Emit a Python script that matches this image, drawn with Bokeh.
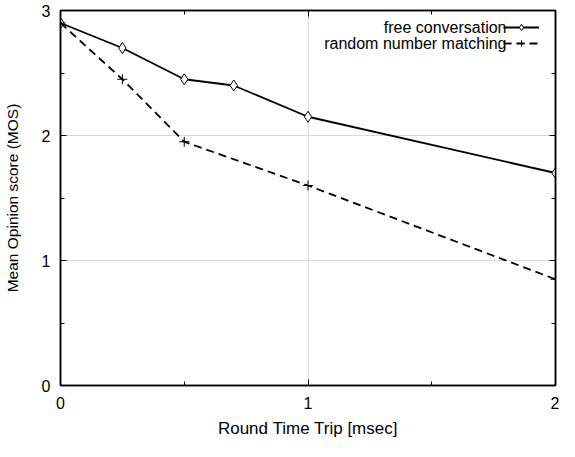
from bokeh.plotting import figure
from bokeh.models import (Range1d, LinearAxis, FixedTicker, Legend, LegendItem, Label)
from bokeh.embed import file_html
from bokeh.resources import INLINE

# Data
rtt_free = [0, 0.25, 0.5, 0.7, 1, 2]
mos_free = [2.9, 2.7, 2.45, 2.4, 2.15, 1.7]
rtt_rand = [0, 0.25, 0.5, 1, 2]
mos_rand = [2.9, 2.45, 1.95, 1.6, 0.85]
x_ticks = [0, 1, 2]
y_ticks = [0, 1, 2, 3]
series_names = ["free conversation", "random number matching"]

FONT = "Liberation Sans"

W, H = 559, 441
BL, BR, BT, BB = 60, 4, 10, 56
p = figure(width=W, height=H, output_backend="svg", toolbar_location=None,
           x_range=Range1d(0, 2), y_range=Range1d(0, 3),
           min_border_left=BL, min_border_right=BR, min_border_top=BT, min_border_bottom=BB)

p.background_fill_color = "white"
p.border_fill_color = "white"
p.outline_line_color = "black"
p.outline_line_width = 1.5

p.xgrid.ticker = FixedTicker(ticks=x_ticks)
p.ygrid.ticker = FixedTicker(ticks=y_ticks)
for g in (p.xgrid, p.ygrid):
    g.grid_line_color = "#d9d9d9"
    g.grid_line_width = 1

def style_axis(ax, ticks, minor, labels=True):
    ax.ticker = FixedTicker(ticks=ticks, minor_ticks=minor)
    ax.major_tick_in = 6
    ax.major_tick_out = 0
    ax.minor_tick_in = 4
    ax.minor_tick_out = 0
    ax.axis_line_color = "black"
    ax.axis_line_width = 1.5
    ax.major_tick_line_color = "black"
    ax.minor_tick_line_color = "black"
    ax.major_label_text_font = FONT
    ax.major_label_text_font_size = "16px"
    ax.major_label_text_color = "black"
    ax.axis_label_text_font = FONT
    ax.axis_label_text_font_size = "16px"
    ax.axis_label_text_font_style = "normal"
    ax.axis_label_text_color = "black"
    if not labels:
        ax.major_label_text_font_size = "0px"
        ax.major_label_text_alpha = 0

x_minor = [0.5, 1.5]
y_minor = [0.5, 1.5, 2.5]

style_axis(p.xaxis[0], x_ticks, x_minor)
style_axis(p.yaxis[0], y_ticks, y_minor)
p.xaxis[0].axis_label = "Round Time Trip [msec]"
p.yaxis[0].axis_label = "Mean Opinion score (MOS)"
p.xaxis[0].axis_label_text_font_size = "17px"
p.yaxis[0].axis_label_text_font_size = "15.5px"
p.xaxis[0].major_label_standoff = 11
p.xaxis[0].axis_label_standoff = 7
p.yaxis[0].major_label_standoff = 10
p.yaxis[0].axis_label_standoff = 18

top_ax = LinearAxis()
right_ax = LinearAxis()
style_axis(top_ax, x_ticks, x_minor, labels=False)
style_axis(right_ax, y_ticks, y_minor, labels=False)
top_ax.major_label_standoff = 0
right_ax.major_label_standoff = 0
p.add_layout(top_ax, "above")
p.add_layout(right_ax, "right")

l1 = p.line(rtt_free, mos_free, line_color="black", line_width=1.8)
s1 = p.scatter(rtt_free, mos_free, marker="diamond", size=11, fill_color="white",
               line_color="black", line_width=1)
l2 = p.line(rtt_rand, mos_rand, line_color="black", line_width=1.8, line_dash="8 5")
s2 = p.scatter(rtt_rand, mos_rand, marker="cross", size=10, line_color="black",
               line_width=1)

fw = W - BL - BR
fh = H - BT - BB

legend = Legend(items=[LegendItem(label=" ", renderers=[l1, s1]),
                       LegendItem(label=" ", renderers=[l2, s2])],
                location=(fw - 52, fh - 41), glyph_width=36, glyph_height=16,
                label_height=16, label_width=0, label_standoff=0,
                label_text_font_size="1px", padding=0, spacing=0, margin=0,
                border_line_color=None, background_fill_alpha=0)
p.add_layout(legend, "center")

for i, name in enumerate(series_names):
    p.add_layout(Label(x=fw - 49, y=fh - 17 - 16 * i, x_units="screen", y_units="screen",
                       text=name, text_align="right", text_baseline="middle",
                       text_font=FONT, text_font_size="16px", text_color="black"))

open("out.html", "w").write(file_html(p, INLINE))
